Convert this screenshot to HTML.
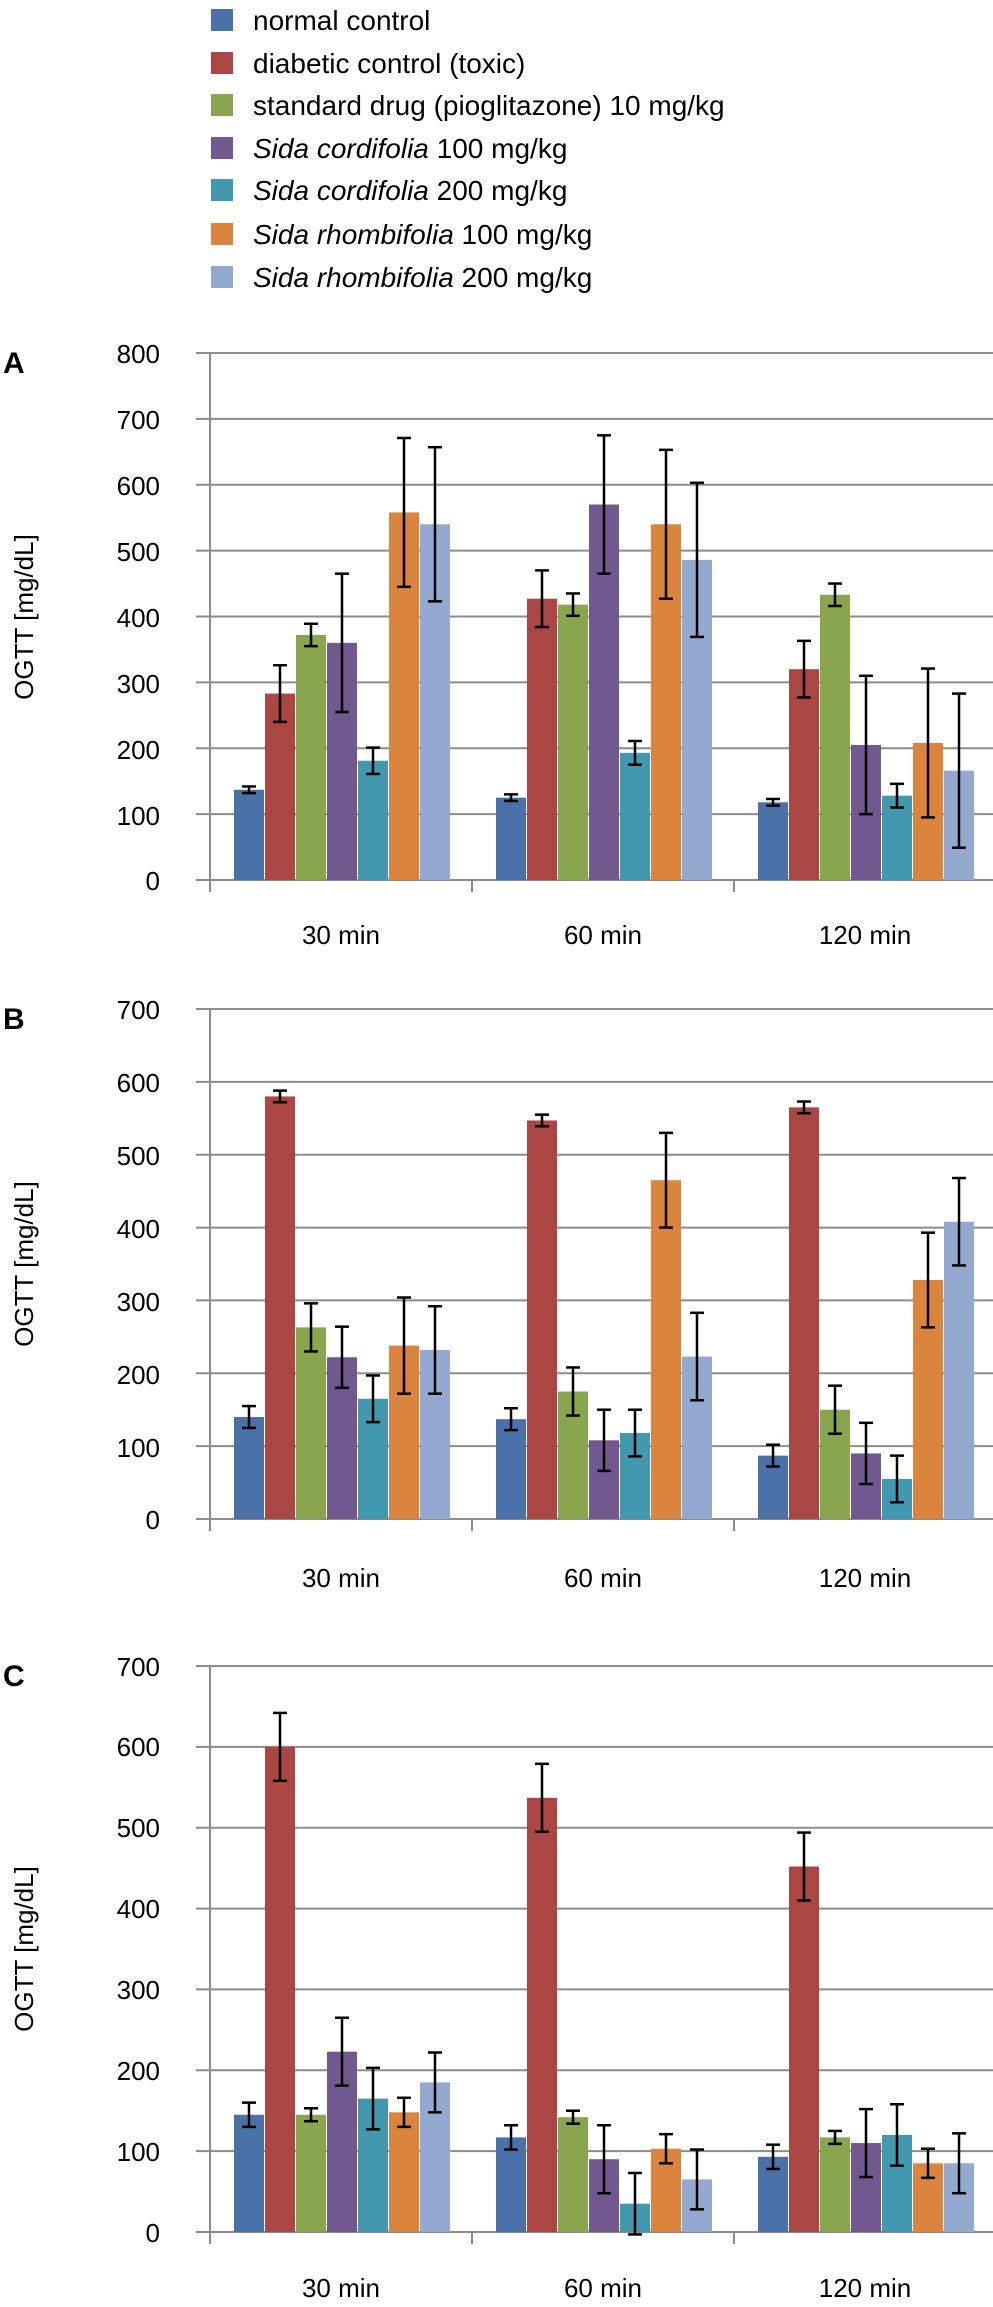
<!DOCTYPE html>
<html><head><meta charset="utf-8"><style>
body{margin:0;background:#fff;}
svg{display:block;font-family:"Liberation Sans",sans-serif;}
</style></head><body>
<svg id="s" width="993" height="2307" xmlns="http://www.w3.org/2000/svg">
<g font-size="28" fill="#000">
<rect x="211" y="9" width="22" height="22" fill="#4a72a8"/><text x="253" y="30">normal control</text>
<rect x="211" y="52" width="22" height="22" fill="#aa4643"/><text x="253" y="73">diabetic control (toxic)</text>
<rect x="211" y="94" width="22" height="22" fill="#89a54e"/><text x="253" y="115">standard drug (pioglitazone) 10 mg/kg</text>
<rect x="211" y="137" width="22" height="22" fill="#71588f"/><text x="253" y="158"><tspan font-style="italic">Sida cordifolia</tspan> 100 mg/kg</text>
<rect x="211" y="179" width="22" height="22" fill="#4198af"/><text x="253" y="200"><tspan font-style="italic">Sida cordifolia</tspan> 200 mg/kg</text>
<rect x="211" y="223" width="22" height="22" fill="#db843d"/><text x="253" y="244"><tspan font-style="italic">Sida rhombifolia</tspan> 100 mg/kg</text>
<rect x="211" y="266" width="22" height="22" fill="#93a9cf"/><text x="253" y="287"><tspan font-style="italic">Sida rhombifolia</tspan> 200 mg/kg</text>
</g>
<g font-size="30" font-weight="bold"><text x="3" y="373">A</text><text x="3" y="1029">B</text><text x="3" y="1686">C</text></g>
<g font-size="26" text-anchor="end">
<text x="160" y="363">800</text><text x="160" y="429">700</text><text x="160" y="495">600</text><text x="160" y="561">500</text><text x="160" y="627">400</text><text x="160" y="693">300</text><text x="160" y="759">200</text><text x="160" y="825">100</text><text x="160" y="890">0</text>
<text x="160" y="1019">700</text><text x="160" y="1092">600</text><text x="160" y="1165">500</text><text x="160" y="1238">400</text><text x="160" y="1311">300</text><text x="160" y="1384">200</text><text x="160" y="1457">100</text><text x="160" y="1529">0</text>
<text x="160" y="1676">700</text><text x="160" y="1756">600</text><text x="160" y="1837">500</text><text x="160" y="1918">400</text><text x="160" y="1999">300</text><text x="160" y="2080">200</text><text x="160" y="2161">100</text><text x="160" y="2242">0</text>
</g>
<g font-size="26" text-anchor="middle">
<text x="341" y="944">30 min</text><text x="603" y="944">60 min</text><text x="865" y="944">120 min</text>
<text x="341" y="1587">30 min</text><text x="603" y="1587">60 min</text><text x="865" y="1587">120 min</text>
<text x="341" y="2297">30 min</text><text x="603" y="2297">60 min</text><text x="865" y="2297">120 min</text>
</g>
<g font-size="26" text-anchor="middle">
<text transform="translate(33,617) rotate(-90)">OGTT [mg/dL]</text>
<text transform="translate(33,1264) rotate(-90)">OGTT [mg/dL]</text>
<text transform="translate(33,1949) rotate(-90)">OGTT [mg/dL]</text>
</g>
<g id="g"></g>
</svg>
<script>
var C=["#4a72a8","#aa4643","#89a54e","#71588f","#4198af","#db843d","#93a9cf"];
var charts=[
{top:353,bot:880,max:800,d:[[[137,5],[283,43],[372,17],[360,105],[181,20],[558,113],[540,117]],[[125,5],[427,43],[418,17],[570,105],[193,18],[540,113],[486,117]],[[118,5],[320,43],[433,17],[205,105],[128,18],[208,113],[166,117]]]},
{top:1009,bot:1519,max:700,d:[[[140,15],[580,8],[263,33],[222,42],[165,32],[238,66],[232,60]],[[137,15],[547,8],[175,33],[108,42],[118,32],[465,65],[223,60]],[[87,15],[565,8],[150,33],[90,42],[55,32],[328,65],[408,60]]]},
{top:1666,bot:2232,max:700,d:[[[145,15],[600,42],[145,8],[223,42],[165,38],[148,18],[185,37]],[[117,15],[537,42],[142,8],[90,42],[35,38],[103,18],[65,37]],[[93,15],[452,42],[117,8],[110,42],[120,38],[85,18],[85,37]]]}];
var s="";
charts.forEach(function(c){
 var n=c.max/100,h=(c.bot-c.top);
 for(var i=0;i<=n;i++){var y=c.top+h*i/n;s+='<line x1="196" x2="993" y1="'+y+'" y2="'+y+'" stroke="#8c8c8c" stroke-width="2"/>';}
 s+='<line x1="210" x2="210" y1="'+c.top+'" y2="'+(c.bot+12)+'" stroke="#8c8c8c" stroke-width="2"/>';
 for(var k=1;k<=3;k++){var x=210+262*k;s+='<line x1="'+x+'" x2="'+x+'" y1="'+c.bot+'" y2="'+(c.bot+12)+'" stroke="#8c8c8c" stroke-width="2"/>';}
 c.d.forEach(function(g,gi){g.forEach(function(v,bi){
  var x=210+262*gi+24+31*bi,y=c.bot-v[0]/c.max*h;
  s+='<rect x="'+x+'" y="'+y+'" width="30" height="'+(c.bot-y)+'" fill="'+C[bi]+'"/>';
  var e=v[1]/c.max*h,cx=x+15;
  s+='<g stroke="#000" stroke-width="2.5"><line x1="'+cx+'" x2="'+cx+'" y1="'+(y-e)+'" y2="'+(y+e)+'"/><line x1="'+(cx-7)+'" x2="'+(cx+7)+'" y1="'+(y-e)+'" y2="'+(y-e)+'"/><line x1="'+(cx-7)+'" x2="'+(cx+7)+'" y1="'+(y+e)+'" y2="'+(y+e)+'"/></g>';
 });});
});
document.getElementById("g").innerHTML=s;
</script>
</body></html>
